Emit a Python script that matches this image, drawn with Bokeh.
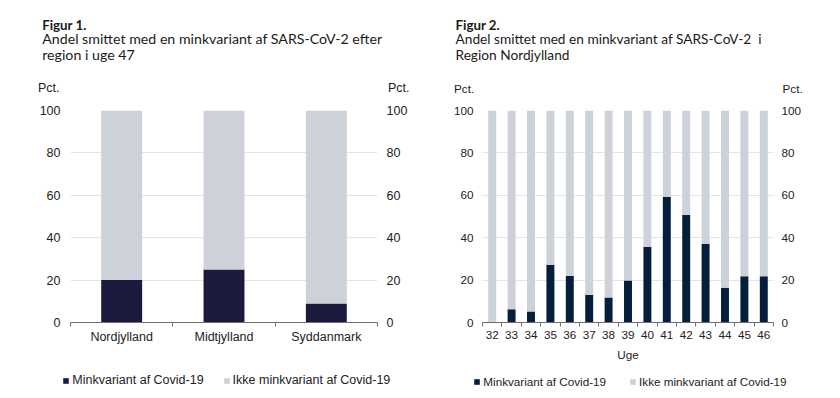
from bokeh.plotting import figure
from bokeh.layouts import row, column
from bokeh.models import (FixedTicker, LinearAxis, Range1d, Label, Legend,
                          LegendItem, ColumnDataSource)
from bokeh.embed import file_html
from bokeh.resources import INLINE

# ---------------- data ----------------
regions = ["Nordjylland", "Midtjylland", "Syddanmark"]
region_mink = [20, 25, 9]
region_ikke = [80, 75, 91]

weeks = [32, 33, 34, 35, 36, 37, 38, 39, 40, 41, 42, 43, 44, 45, 46]
week_mink = [0, 6.3, 5.2, 27.2, 22.1, 13.0, 11.8, 19.8, 35.7, 59.3, 50.7, 37.1, 16.4, 21.8, 21.8]
week_ikke = [100, 93.7, 94.8, 72.8, 77.9, 87.0, 88.2, 80.2, 64.3, 40.7, 49.3, 62.9, 83.6, 78.2, 78.2]

y_ticks = [0, 20, 40, 60, 80, 100]
series_labels = ["Minkvariant af Covid-19", "Ikke minkvariant af Covid-19"]

fig1_title = "Figur 1."
fig1_sub = ["Andel smittet med en minkvariant af SARS-CoV-2 efter", "region i uge 47"]
fig2_title = "Figur 2."
fig2_sub = ["Andel smittet med en minkvariant af SARS-CoV-2\u00a0\u00a0i", "Region Nordjylland"]
unit_label = "Pct."
x2_label = "Uge"

GREY = "#cdd1d8"
DARK1 = "#1b1a3e"
DARK2 = "#041e3c"
TXT = "#1a1a1a"
TICK_COL = "#222222"
TICK_FONT = "Liberation Sans"
TITLE_FONT = "Lato"

HEADER_H = 98
CHART_H = 268
FOOTER_H = 32


def blank_fig(w, h):
    f = figure(width=w, height=h, x_range=Range1d(0, w), y_range=Range1d(0, h),
               x_axis_type=None, y_axis_type=None, output_backend="svg",
               toolbar_location=None, title=None, min_border=0)
    f.outline_line_color = None
    f.xgrid.visible = False
    f.ygrid.visible = False
    return f


# ---------------- header (titles, unit labels) ----------------
head = blank_fig(840, HEADER_H)


def add_titles(x, title, subs, tfs, sfs):
    head.add_layout(Label(x=x, y=HEADER_H - 24, text=title, text_font=TITLE_FONT,
                          text_font_size=tfs, text_font_style="bold", text_color=TXT,
                          text_baseline="alphabetic"))
    for i, s in enumerate(subs):
        head.add_layout(Label(x=x, y=HEADER_H - 37.5 - 16.8 * i, text=s, text_font=TITLE_FONT,
                              text_font_size=sfs, text_color=TXT, text_baseline="alphabetic"))


def add_pct(xs, fs):
    for xx in xs:
        head.add_layout(Label(x=xx, y=HEADER_H - 87.5, text=unit_label, text_font=TICK_FONT,
                              text_font_size=fs, text_color=TICK_COL,
                              text_baseline="alphabetic"))


add_titles(41.7, fig1_title, fig1_sub, "13.3px", "14.2px")
add_titles(455, fig2_title, fig2_sub, "13.3px", "13.7px")
add_pct([37.5, 387.5], "12.5px")
add_pct([453.5, 782], "11.7px")


# ---------------- charts ----------------
def base_fig(w, x_range, bl, br, bt, bb):
    p = figure(width=w, height=CHART_H, x_range=x_range, y_range=Range1d(0, 100),
               output_backend="svg", toolbar_location=None, title=None,
               min_border_left=bl, min_border_right=br, min_border_top=bt,
               min_border_bottom=bb)
    p.outline_line_color = None
    p.background_fill_color = "white"
    p.border_fill_color = "white"
    p.xgrid.grid_line_color = None
    p.ygrid.ticker = FixedTicker(ticks=y_ticks)
    p.ygrid.grid_line_color = "#e4e4e4"
    p.ygrid.grid_line_width = 1
    return p


def style_y(ax, fs, standoff):
    ax.ticker = FixedTicker(ticks=y_ticks)
    ax.axis_line_color = None
    ax.major_tick_line_color = None
    ax.minor_tick_line_color = None
    ax.major_tick_out = 0
    ax.major_tick_in = 0
    ax.major_label_standoff = standoff
    ax.major_label_text_font = TICK_FONT
    ax.major_label_text_font_size = fs
    ax.major_label_text_color = TICK_COL


def style_x(ax, fs, standoff, major, minor):
    ax.ticker = FixedTicker(ticks=major, minor_ticks=minor)
    ax.axis_line_color = "#6e6e6e"
    ax.axis_line_width = 1
    ax.major_tick_line_color = None
    ax.major_tick_out = 0
    ax.major_tick_in = 0
    ax.minor_tick_line_color = "#6e6e6e"
    ax.minor_tick_out = 4
    ax.minor_tick_in = 0
    ax.major_label_standoff = standoff
    ax.major_label_text_font = TICK_FONT
    ax.major_label_text_font_size = fs
    ax.major_label_text_color = TICK_COL


# Figure 1
src1 = ColumnDataSource(dict(x=[i + 0.5 for i in range(len(regions))],
                             mink=region_mink, ikke=region_ikke))
p1 = base_fig(424, Range1d(0, len(regions)), 70, 47, 12, 43)
p1.vbar_stack(["mink", "ikke"], x="x", width=0.4, source=src1,
              fill_color=[DARK1, GREY], line_color=None)
style_x(p1.xaxis[0], "12.5px", 3, [i + 0.5 for i in range(len(regions))],
        list(range(len(regions) + 1)))
p1.xaxis[0].major_label_overrides = {i + 0.5: regions[i] for i in range(len(regions))}
style_y(p1.yaxis[0], "12.5px", 10)
ax1r = LinearAxis()
style_y(ax1r, "12.5px", 9)
p1.add_layout(ax1r, "right")

# Figure 2
src2 = ColumnDataSource(dict(x=weeks, mink=week_mink, ikke=week_ikke))
p2 = base_fig(416, Range1d(weeks[0] - 0.5, weeks[-1] + 0.5), 58, 67, 11, 44)
p2.vbar_stack(["mink", "ikke"], x="x", width=0.41, source=src2,
              fill_color=[DARK2, GREY], line_color=None)
style_x(p2.xaxis[0], "11.7px", 4, weeks, [w - 0.5 for w in weeks] + [weeks[-1] + 0.5])
p2.xaxis[0].axis_label = x2_label
p2.xaxis[0].axis_label_standoff = 6
p2.xaxis[0].axis_label_text_font = TICK_FONT
p2.xaxis[0].axis_label_text_font_size = "11.7px"
p2.xaxis[0].axis_label_text_font_style = "normal"
p2.xaxis[0].axis_label_text_color = TICK_COL
style_y(p2.yaxis[0], "11.7px", 9)
ax2r = LinearAxis()
style_y(ax2r, "11.7px", 8)
p2.add_layout(ax2r, "right")

# ---------------- footer (legends) ----------------
foot = blank_fig(840, FOOTER_H)


def add_legend(src, colors, loc, spacing, fs):
    # hidden renderers (not drawn) that only provide the legend swatches
    rs = [foot.vbar(x="x", top=col, width=0.4, source=src, fill_color=c,
                    line_color=None, visible=False)
          for col, c in zip(["mink", "ikke"], colors)]
    items = [LegendItem(label=series_labels[i], renderers=[rs[i]]) for i in range(2)]
    lg = Legend(items=items, orientation="horizontal", location=loc,
                glyph_width=7, glyph_height=7, label_standoff=3, spacing=spacing,
                padding=0, margin=0, border_line_color=None, background_fill_alpha=0,
                inactive_fill_alpha=0,
                label_text_font=TICK_FONT, label_text_font_size=fs,
                label_text_color=TICK_COL, label_height=7)
    foot.add_layout(lg, "center")


add_legend(src1, [DARK1, GREY], (62.3, 11), 19, "12.5px")
add_legend(src2, [DARK2, GREY], (473.3, 10), 23, "11.7px")

layout = column(head, row(p1, p2), foot)
open("out.html", "w").write(file_html(layout, INLINE))
